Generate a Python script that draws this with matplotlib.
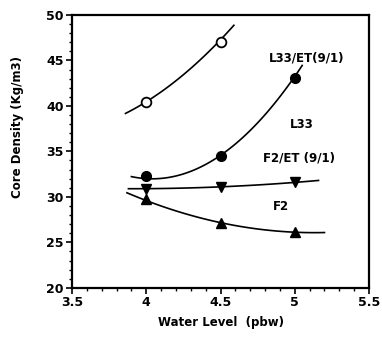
import numpy as np
import matplotlib
matplotlib.use("Agg")
import matplotlib.pyplot as plt
from matplotlib.ticker import MultipleLocator

# ── Data ──────────────────────────────────────────────────────
water_level = [4.0, 4.5, 5.0]

l33_et = [40.4, 47.0]                 # open circles (only 4 and 4.5)
l33 = [32.3, 34.5, 43.1]              # filled circles
f2_et = [30.9, 31.1, 31.6]            # down triangles
f2 = [29.8, 27.1, 26.1]               # up triangles

# fitted curve traces
l33_et_curve_x = [3.86, 4.0, 4.36, 4.5, 4.59]
l33_et_curve_y = [39.2, 40.4, 45.2, 47.0, 49.0]
l33_curve_x = [3.9, 4.0, 4.5, 5.0, 5.05]
l33_curve_y = [32.0, 32.3, 34.5, 43.1, 44.6]
f2_et_curve_x = [3.88, 4.0, 4.5, 5.0, 5.16]
f2_et_curve_y = [30.9, 30.9, 31.1, 31.6, 31.8]
f2_curve_x = [3.87, 4.0, 4.5, 5.0, 5.2]
f2_curve_y = [30.3, 29.8, 27.1, 26.1, 26.1]

labels = ["L33/ET(9/1)", "L33", "F2/ET (9/1)", "F2"]
label_x = [5.08, 5.05, 5.03, 4.91]
label_y = [45.3, 38.0, 34.3, 28.9]

fig = plt.figure(figsize=(3.82, 3.41), dpi=100)
ax = fig.add_axes([0.1885, 0.156, 0.7775, 0.80])


def smooth(xs, ys, deg=2):
    c = np.polyfit(xs, ys, deg)
    xx = np.linspace(min(xs), max(xs), 100)
    return xx, np.polyval(c, xx)


# ── Curves ───────────────────────────────────────────────────
for cx, cy in [(l33_et_curve_x, l33_et_curve_y), (l33_curve_x, l33_curve_y),
               (f2_et_curve_x, f2_et_curve_y), (f2_curve_x, f2_curve_y)]:
    xx, yy = smooth(cx, cy)
    ax.plot(xx, yy, color="black", lw=1.2, zorder=2)

# ── Markers ──────────────────────────────────────────────────
ax.plot(water_level[:2], l33_et, "o", ms=7, mfc="white", mec="black", mew=1.3, zorder=3)
ax.plot(water_level, l33, "o", ms=7, mfc="black", mec="black", zorder=3)
ax.plot(water_level, f2_et, "v", ms=7, mfc="black", mec="black", zorder=3)
ax.plot(water_level, f2, "^", ms=7, mfc="black", mec="black", zorder=3)

for t, x, y in zip(labels, label_x, label_y):
    ax.text(x, y, t, ha="center", va="center", fontsize=8.5, fontweight="bold")

# ── Axes ─────────────────────────────────────────────────────
ax.set_xlim(3.5, 5.5)
ax.set_ylim(20, 50)
ax.xaxis.set_major_locator(MultipleLocator(0.5))
ax.xaxis.set_minor_locator(MultipleLocator(0.1))
ax.yaxis.set_major_locator(MultipleLocator(5))
ax.yaxis.set_minor_locator(MultipleLocator(1))
ax.set_xticks([3.5, 4, 4.5, 5, 5.5])
ax.set_xticklabels(["3.5", "4", "4.5", "5", "5.5"])
ax.tick_params(which="major", direction="out", length=4, width=1.2,
               labelsize=9, pad=2)
ax.tick_params(which="minor", direction="out", length=2.5, width=1)
for lab in ax.get_xticklabels() + ax.get_yticklabels():
    lab.set_fontweight("bold")
for s in ax.spines.values():
    s.set_linewidth(1.6)

ax.set_xlabel("Water Level  (pbw)", fontsize=8.5, fontweight="bold", labelpad=5)
ax.set_ylabel("Core Density (Kg/m3)", fontsize=8.5, fontweight="bold")
ax.yaxis.set_label_coords(-0.16, 0.59)

fig.savefig("out.png", dpi=100)
